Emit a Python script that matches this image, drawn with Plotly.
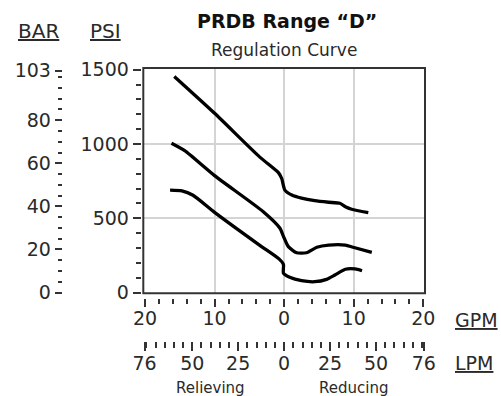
import plotly.graph_objects as go

# ---- data (GPM vs PSI) ----
gpm_hi = [-15.8, -10.0, -3.5, -0.8, -0.35, 0.1, 1.1, 2.5, 4.4, 6.4, 8.0, 8.8, 9.7, 12.1]
psi_hi = [1455, 1207, 912, 806, 768, 690, 657, 636, 619, 608, 601, 578, 561, 538]

gpm_mid = [-16.2, -14.3, -10.0, -3.0, -0.6, -0.1, 0.6, 1.8, 3.2, 4.7, 6.4, 8.8, 9.9, 12.6]
psi_mid = [1005, 955, 787, 544, 433, 378, 309, 268, 268, 305, 320, 320, 305, 271]

gpm_lo = [-16.4, -14.7, -13.1, -10.0, -3.5, -0.7, -0.1, -0.1, 0.8, 2.5, 4.4, 6.1, 7.3, 8.8, 10.2, 11.2]
psi_lo = [690, 685, 655, 540, 318, 225, 190, 130, 103, 80, 73, 89, 118, 157, 159, 147]

gpm_ticks = [-20, -10, 0, 10, 20]
gpm_labels = ["20", "10", "0", "10", "20"]
gpm_grid = [-10, 0, 10]
lpm_ticks = [-76, -50, -25, 0, 25, 50, 76]
lpm_labels = ["76", "50", "25", "0", "25", "50", "76"]
psi_ticks = [0, 500, 1000, 1500]
psi_grid = [500, 1000]
bar_ticks = [0, 20, 40, 60, 80, 103]

LPM_PER_GPM = 3.78541
PSI_PER_BAR = 14.5038

W, H = 501, 396


def xp(px):
    return px / W


def yp(py_):
    return 1 - py_ / H


FONT = "DejaVu Sans, Liberation Sans, Arial, sans-serif"
TXT = "#2a2a2a"
TC = "#333333"

gx = [-20.25, 20.25]
py = [-5, 1512]

xd = [xp(143.3), xp(425)]
yd = [yp(293.3), yp(68)]

fig = go.Figure()
for gx_, py_ in [(gpm_hi, psi_hi), (gpm_mid, psi_mid), (gpm_lo, psi_lo)]:
    fig.add_trace(go.Scatter(x=gx_, y=py_, mode="lines",
                             line=dict(color="#000000", width=3.3, shape="spline", smoothing=0.6),
                             hoverinfo="skip", showlegend=False))

# dummy traces to realise overlay axes
for xa, ya in [("x2", "y"), ("x3", "y"), ("x", "y2"), ("x", "y3")]:
    fig.add_trace(go.Scatter(x=[None], y=[None], xaxis=xa, yaxis=ya, showlegend=False, hoverinfo="skip"))

tickfont = dict(family=FONT, size=19, color=TXT)

fig.update_layout(
    template="none",
    width=W, height=H, margin=dict(l=0, r=0, t=0, b=0, pad=0, autoexpand=False),
    paper_bgcolor="white", plot_bgcolor="white",
    font=dict(family=FONT, color=TXT),
    showlegend=False,
    xaxis=dict(domain=xd, range=gx, tickmode="array", tickvals=gpm_grid, showticklabels=False,
               ticks="", showgrid=True, gridcolor="#d4d4d4", gridwidth=1.5, automargin=False,
               zeroline=False, showline=False, fixedrange=True, anchor="y"),
    yaxis=dict(domain=yd, range=py, tickmode="array", tickvals=psi_grid, showticklabels=False,
               ticks="", showgrid=True, gridcolor="#d4d4d4", gridwidth=1.5, automargin=False,
               zeroline=False, showline=False, fixedrange=True, anchor="x"),
    xaxis2=dict(overlaying="x", anchor="free", position=yp(297.5), range=gx, automargin=False,
                tickmode="array", tickvals=gpm_ticks, ticktext=gpm_labels,
                ticks="outside", ticklen=8, tickwidth=1.5, tickcolor=TC, ticklabelstandoff=-4,
                minor=dict(tickmode="linear", tick0=0, dtick=2, ticks="outside",
                           ticklen=5, tickwidth=1.5, tickcolor=TC, showgrid=False),
                showgrid=False, zeroline=False, showline=False, tickfont=tickfont, fixedrange=True),
    xaxis3=dict(overlaying="x", anchor="free", position=yp(340.5), automargin=False,
                range=[v * LPM_PER_GPM for v in gx],
                tickmode="array", tickvals=lpm_ticks, ticktext=lpm_labels,
                ticks="outside", ticklen=9, tickwidth=1.5, tickcolor=TC, ticklabelstandoff=-3,
                minor=dict(tickmode="linear", tick0=0, dtick=5, ticks="outside",
                           ticklen=6, tickwidth=1.5, tickcolor=TC, showgrid=False),
                showgrid=False, zeroline=False, showline=False, tickfont=tickfont, fixedrange=True),
    yaxis2=dict(overlaying="y", anchor="free", position=xp(140.7), side="left", range=py,
                automargin=False, tickmode="array", tickvals=psi_ticks,
                ticks="outside", ticklen=8, tickwidth=1.5, tickcolor=TC,
                minor=dict(tickmode="linear", tick0=0, dtick=100, ticks="outside",
                           ticklen=5, tickwidth=1.5, tickcolor=TC, showgrid=False),
                showgrid=False, zeroline=False, showline=False, tickfont=tickfont, fixedrange=True),
    yaxis3=dict(overlaying="y", anchor="free", position=xp(61.7), side="left",
                automargin=False, range=[v / PSI_PER_BAR for v in py],
                tickmode="array", tickvals=bar_ticks,
                ticks="outside", ticklen=7, tickwidth=1.5, tickcolor=TC,
                minor=dict(tickmode="linear", tick0=0, dtick=5, ticks="outside",
                           ticklen=4, tickwidth=1.5, tickcolor=TC, showgrid=False),
                showgrid=False, zeroline=False, showline=False, tickfont=tickfont, fixedrange=True),
)

# plot frame
fig.add_shape(type="rect", xref="x domain", yref="y domain", x0=0, x1=1, y0=0, y1=1,
              line=dict(color="#333333", width=2), layer="above")


def ann(text, x, y, size, xanchor="center", color=TXT):
    fig.add_annotation(text=text, x=xp(x), y=yp(y), xref="paper", yref="paper",
                       showarrow=False, xanchor=xanchor, yanchor="middle",
                       font=dict(family=FONT, size=size, color=color))


ann("<b>PRDB Range “D”</b>", 286.5, 21, 19, color="#111")
ann("Regulation Curve", 283.5, 50, 17)
ann("<u>BAR</u>", 38.5, 31, 20)
ann("<u>PSI</u>", 105, 31, 20)
ann("<u>GPM</u>", 453, 320, 19, xanchor="left")
ann("<u>LPM</u>", 453, 363, 19, xanchor="left")
ann("Relieving", 210, 388, 15)
ann("Reducing", 353, 388, 15)

# remove the browser's default 8px body margin so the figure sits at the window origin
fig.write_html("out.html", config={"displayModeBar": False},
               post_script="document.body.style.margin='0';document.body.style.overflow='hidden';")
